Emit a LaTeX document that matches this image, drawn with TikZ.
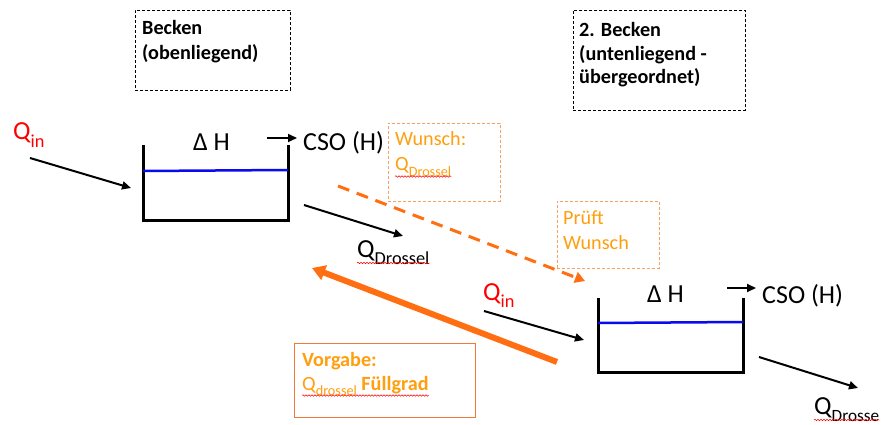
\documentclass[tikz,border=0pt]{standalone}
\usepackage{fontspec}
\setmainfont{Carlito}
\usetikzlibrary{arrows.meta,decorations.pathmorphing}

\definecolor{txtorange}{HTML}{FF9F0F}
\definecolor{arrorange}{HTML}{FF6E10}
\definecolor{lineorange}{HTML}{F07A36}
\definecolor{dashorange}{HTML}{F7A064}
\definecolor{waterblue}{HTML}{0A0AF0}

% Q with a lowered index
\newcommand\qindex[2]{Q\raisebox{-0.28em}{\fontsize{#1}{#1}\selectfont #2}}

\tikzset{
  big/.style={font=\fontsize{26}{31}\selectfont, inner sep=0pt, anchor=base west},
  mid/.style={font=\fontsize{20.2}{25}\selectfont, inner sep=0pt, anchor=base west, align=left},
  labelbox/.style={draw, dashed, line width=0.7pt, dash pattern=on 3pt off 2pt, inner sep=0pt, anchor=north west},
  flow/.style={line width=2pt, -{Triangle[length=9pt,width=8pt]}},
  tankwall/.style={line width=3pt, line join=miter, line cap=rect},
  level/.style={line width=2.5pt, waterblue},
  spell/.style={red, line width=0.5pt, decorate, decoration={snake, amplitude=0.8pt, segment length=3pt}},
}

\begin{document}
\begin{tikzpicture}[x=1pt,y=-1pt]
\useasboundingbox[fill=white] (0,0) rectangle (881,425);

% ---------- upper basin ----------
\node[labelbox, minimum width=155pt, minimum height=80pt] (boxA) at (135,10) {};
% a multi-line node sits on the baseline of its last line
\node[mid, font=\fontsize{20.2}{25.5}\selectfont\bfseries] (boxAtxt) at (142,60) {Becken\\(obenliegend)};

\coordinate (tankAtl) at (143,147);
\coordinate (tankAbl) at (143,220);
\coordinate (tankAbr) at (288,220);
\coordinate (tankAtr) at (288,147);
\draw[tankwall] (tankAtl) -- (tankAbl) -- (tankAbr) -- (tankAtr);
\draw[level] (143,171) -- (288,170);

\node[big, red] (qinA) at (13,140) {\qindex{18.3}{in}};
\coordinate (qinAs) at (30,158);
\coordinate (qinAe) at (131,188);
\draw[flow] (qinAs) -- (qinAe);

\node[big] (dhA) at (193,150) {Δ H};
\coordinate (csoAs) at (267,138);
\coordinate (csoAe) at (297,138);
\draw[flow] (csoAs) -- (csoAe);
\node[big] (csoA) at (303,151) {CSO (H)};

\coordinate (outAs) at (304,205);
\coordinate (outAe) at (403,236);
\draw[flow] (outAs) -- (outAe);
\node[big] (qdA) at (357,257) {\qindex{18.3}{Drossel}};
\draw[spell] ([yshift=-6pt]qdA.base west) -- ([yshift=-6pt]qdA.base east);

% ---------- lower basin ----------
\node[labelbox, minimum width=172pt, minimum height=100pt] (boxB) at (573,10) {};
\node[mid, font=\fontsize{20.2}{23.5}\selectfont\bfseries] (boxBtxt) at (579,84) {2. Becken\\(untenliegend -\\übergeordnet)};

\coordinate (tankBtl) at (598,299);
\coordinate (tankBbl) at (598,372);
\coordinate (tankBbr) at (743,372);
\coordinate (tankBtr) at (743,299);
\draw[tankwall] (tankBtl) -- (tankBbl) -- (tankBbr) -- (tankBtr);
\draw[level] (598,323) -- (743,322);

\node[big, red] (qinB) at (483,300) {\qindex{18.3}{in}};
\coordinate (qinBs) at (484,311);
\coordinate (qinBe) at (584,340);
\draw[flow] (qinBs) -- (qinBe);

\node[big] (dhB) at (647,302) {Δ H};
\coordinate (csoBs) at (727,288);
\coordinate (csoBe) at (756,288);
\draw[flow] (csoBs) -- (csoBe);
\node[big] (csoB) at (762,303) {CSO (H)};

\coordinate (outBs) at (759,357);
\coordinate (outBe) at (858,388);
\draw[flow] (outBs) -- (outBe);
\node[big] (qdB) at (814,414) {\qindex{17.2}{Drosse}};
\draw[spell] ([yshift=-6pt]qdB.base west) -- ([yshift=-6pt]qdB.base east);

% ---------- coordination between the basins ----------
\node[labelbox, draw=dashorange, minimum width=112pt, minimum height=78pt] (wish) at (388,123) {};
\node[mid, txtorange] (wishtxt) at (395,146) {Wunsch:};
\node[mid, txtorange] (wishq) at (395,171) {\qindex{14.2}{Drossel}};
\draw[spell] ([yshift=-5.5pt]wishq.base west) -- ([yshift=-5.5pt]wishq.base east);

\node[labelbox, draw=dashorange, minimum width=102pt, minimum height=67pt] (check) at (557,201) {};
\node[mid, txtorange] (checktxt) at (563,249) {Prüft\\Wunsch};

\coordinate (wishs) at (338,186);
\coordinate (wishe) at (585,281);
\draw[arrorange, line width=3pt, dash pattern=on 12pt off 8pt,
      -{Triangle[length=10pt,width=11pt]}] (wishs) -- (wishe);

\coordinate (setS) at (557,362);
\coordinate (setE) at (312,268);
\draw[arrorange, line width=6pt, -{Triangle[length=13pt,width=15pt]}] (setS) -- (setE);

\node[draw=lineorange, line width=1.2pt, inner sep=0pt, anchor=north west,
      minimum width=181pt, minimum height=74pt] (preset) at (294,343) {};
\node[mid, txtorange, font=\fontsize{20.2}{25}\selectfont\bfseries] (presettxt) at (302,366) {Vorgabe:};
\node[mid, txtorange] (presetq) at (302,390) {\qindex{14.2}{drossel} \textbf{Füllgrad}};
\draw[spell] ([yshift=-5.5pt]presetq.base west) -- ([yshift=-5.5pt]presetq.base east);
\end{tikzpicture}
\end{document}
